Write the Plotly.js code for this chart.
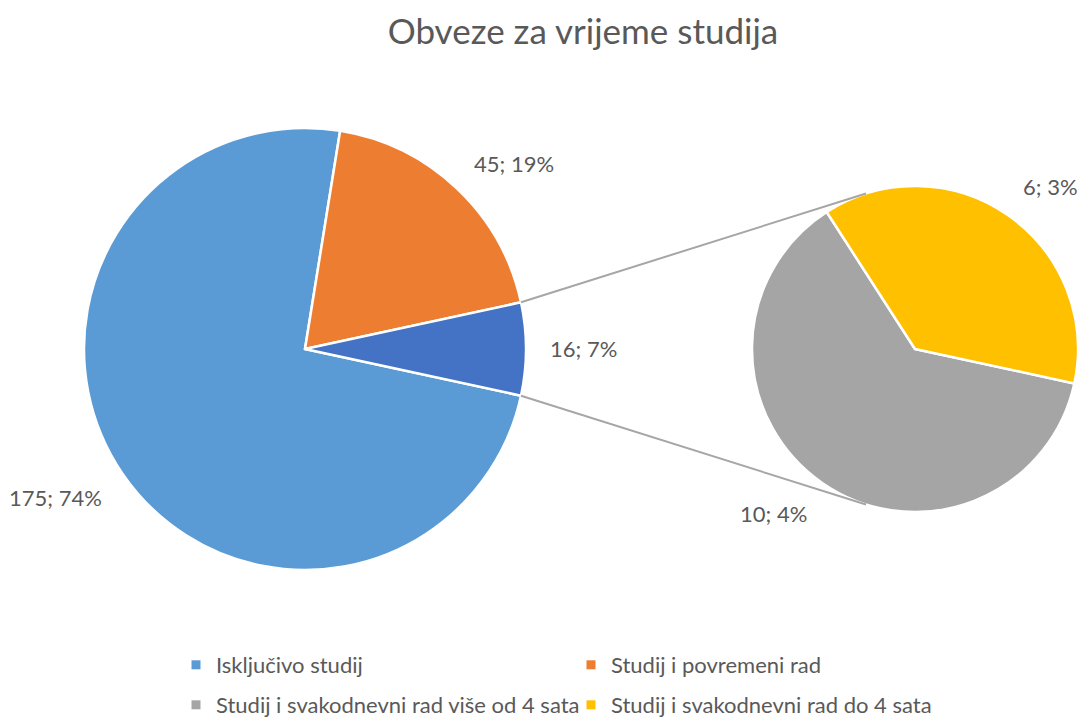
<!DOCTYPE html>
<html>
<head>
<meta charset="utf-8">
<script src="https://cdn.plot.ly/plotly-3.0.1.min.js"></script>
<style>
  html, body { margin: 0; padding: 0; background: #ffffff; overflow: hidden; }
  #chart { width: 1078px; height: 726px; }
</style>
</head>
<body>
<div id="chart"></div>
<script>
/* =========================
   DATA
========================= */
const mainLabels = ["Isključivo studij", "Studij i povremeni rad"];
const mainValues = [175, 45];
const subLabels = ["Studij i svakodnevni rad više od 4 sata", "Studij i svakodnevni rad do 4 sata"];
const subValues = [10, 6];
const otherLabel = "Ostalo";

const mainColors = ["#5B9BD5", "#ED7D31"];
const otherColor = "#4472C4";
const subColors = ["#A5A5A5", "#FFC000"];

/* =========================
   GEOMETRY (pixels)
========================= */
const W = 1078, H = 726;
const main = { cx: 305, cy: 349, r: 221, gap: 22 };
const sub = { cx: 915, cy: 349, r: 163, gap: 23 };
const textColor = "#595959";
const fontFamily = "Lato, 'Open Sans', sans-serif";

const otherValue = subValues.reduce((a, b) => a + b, 0);
const total = mainValues.reduce((a, b) => a + b, 0) + otherValue;
const halfOther = otherValue / total * 180;   // degrees
const rotation = 90 + halfOther;

const pct = v => Math.round(v / total * 100) + "%";
const labelText = v => v + "; " + pct(v);

function domainOf(c) {
  return {
    x: [(c.cx - c.r) / W, (c.cx + c.r) / W],
    y: [1 - (c.cy + c.r) / H, 1 - (c.cy - c.r) / H]
  };
}

/* =========================
   CONNECTOR LINES
========================= */
function connectors() {
  const shapes = [];
  [1, -1].forEach(sign => {
    const a = sign * halfOther * Math.PI / 180;
    const px = main.cx + main.r * Math.cos(a);
    const py = main.cy - main.r * Math.sin(a);
    const dx = px - sub.cx, dy = py - sub.cy;
    const D = Math.hypot(dx, dy);
    const phi = Math.atan2(dy, dx);
    const alpha = Math.acos(sub.r / D);
    const cands = [phi + alpha, phi - alpha].map(t => [sub.cx + sub.r * Math.cos(t), sub.cy + sub.r * Math.sin(t)]);
    cands.sort((p, q) => p[1] - q[1]);
    const t = sign > 0 ? cands[0] : cands[1];
    shapes.push({
      type: "line", xref: "paper", yref: "paper",
      x0: px / W, y0: 1 - py / H, x1: t[0] / W, y1: 1 - t[1] / H,
      line: { color: "#A6A6A6", width: 2 }
    });
  });
  return shapes;
}

/* =========================
   DATA LABELS (outside, like Excel best fit)
========================= */
function sliceLabels(c, values) {
  const sum = values.reduce((a, b) => a + b, 0);
  let cum = 0;
  return values.map(v => {
    const mid = (-halfOther - (cum + v / 2) / sum * 360) * Math.PI / 180;
    cum += v;
    const cs = Math.cos(mid), sn = Math.sin(mid);
    const rr = c.r + c.gap;
    const middle = Math.abs(sn) < 0.25;
    return {
      xref: "paper", yref: "paper", showarrow: false,
      x: (c.cx + rr * cs) / W,
      y: 1 - (c.cy - rr * sn) / H,
      xanchor: cs >= 0 ? "left" : "right",
      yanchor: middle ? "middle" : (sn > 0 ? "bottom" : "top"),
      yshift: middle ? 0 : (sn > 0 ? -6 : 4),
      text: labelText(v),
      font: { color: textColor, size: 22, family: fontFamily }
    };
  });
}

/* =========================
   TRACES
========================= */
const pieCommon = {
  type: "pie",
  sort: false,
  direction: "clockwise",
  rotation: rotation,
  textinfo: "none",
  hoverinfo: "label+value",
  showlegend: false
};

const mainAll = mainValues.concat([otherValue]);
const subTrace = {
  ...pieCommon,
  labels: subLabels,
  values: subValues,
  marker: { colors: subColors, line: { color: "#ffffff", width: 2.5 } },
  domain: domainOf(sub)
};

const mainTrace = {
  ...pieCommon,
  labels: mainLabels.concat([otherLabel]),
  values: mainAll,
  marker: { colors: mainColors.concat([otherColor]), line: { color: "#ffffff", width: 2.5 } },
  domain: domainOf(main)
};

// legend entries (no data, only legend symbols)
const legendLabels = mainLabels.concat(subLabels);
const legendColors = mainColors.concat(subColors);
const legendTraces = legendLabels.map((name, i) => ({
  type: "scatter",
  mode: "markers",
  x: [null],
  y: [null],
  name: name,
  legend: i < 2 ? "legend" : "legend2",
  marker: { symbol: "square", size: 9, color: legendColors[i] },
  hoverinfo: "skip"
}));

const legendCommon = {
  orientation: "h",
  xanchor: "left",
  x: 176 / W,
  entrywidth: 350,
  entrywidthmode: "pixels",
  font: { color: textColor, size: 22, family: fontFamily },
  bgcolor: "rgba(0,0,0,0)",
  itemclick: false,
  itemdoubleclick: false
};

const layout = {
  width: W,
  height: H,
  margin: { t: 0, r: 0, b: 0, l: 0 },
  paper_bgcolor: "#ffffff",
  plot_bgcolor: "#ffffff",
  font: { family: fontFamily, color: textColor },
  title: {
    text: "Obveze za vrijeme studija",
    font: { size: 35, color: textColor, family: fontFamily },
    x: 583 / W,
    xanchor: "center",
    xref: "container",
    y: 1 - 32 / H,
    yanchor: "middle",
    yref: "container"
  },
  xaxis: { visible: false },
  yaxis: { visible: false },
  showlegend: true,
  legend: { ...legendCommon, y: 1 - 665 / H, yanchor: "middle" },
  legend2: { ...legendCommon, y: 0, yanchor: "bottom" },
  shapes: connectors(),
  annotations: sliceLabels(main, mainAll).concat(sliceLabels(sub, subValues))
};

const config = { responsive: false, displayModeBar: false };

Plotly.newPlot("chart", [mainTrace, subTrace, ...legendTraces], layout, config);
</script>
</body>
</html>
